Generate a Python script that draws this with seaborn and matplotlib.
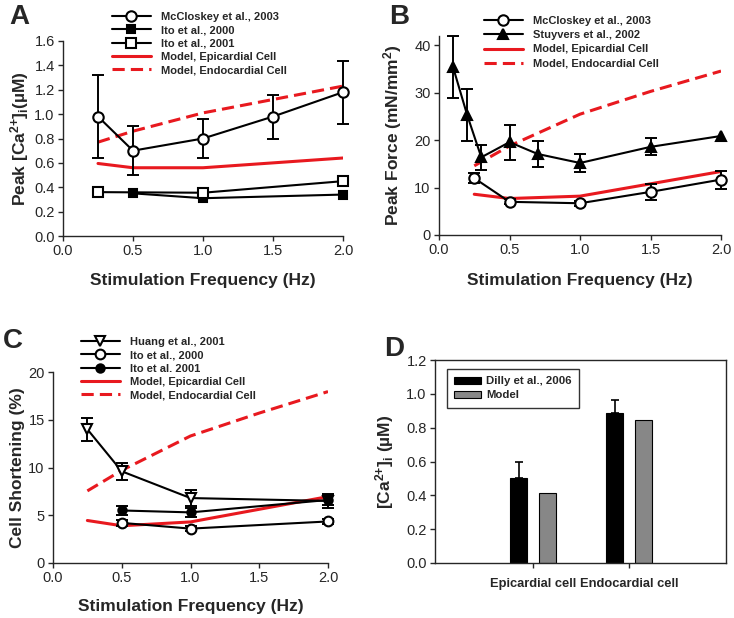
import matplotlib
matplotlib.use('Agg')
import matplotlib.pyplot as plt
import numpy as np
import pandas as pd
import seaborn as sns

# ---- panel A: peak [Ca2+]i vs stimulation frequency
a_mcc_x = [0.25, 0.5, 1.0, 1.5, 2.0]
a_mcc_y = [0.98, 0.70, 0.80, 0.98, 1.18]
a_mcc_err = [0.34, 0.20, 0.16, 0.18, 0.26]
a_ito00_x = [0.5, 1.0, 2.0]
a_ito00_y = [0.35, 0.31, 0.34]
a_ito01_x = [0.25, 1.0, 2.0]
a_ito01_y = [0.36, 0.355, 0.45]
a_epi_x = [0.25, 0.5, 1.0, 2.0]
a_epi_y = [0.595, 0.56, 0.56, 0.64]
a_endo_x = [0.25, 0.5, 1.0, 1.5, 2.0]
a_endo_y = [0.77, 0.86, 1.01, 1.12, 1.23]

# ---- panel B: peak force
b_mcc_x = [0.25, 0.5, 1.0, 1.5, 2.0]
b_mcc_y = [12.0, 7.0, 6.7, 9.1, 11.7]
b_mcc_err = [1.1, 0.5, 0.5, 1.7, 1.9]
b_stuy_x = [0.1, 0.2, 0.3, 0.5, 0.7, 1.0, 1.5, 2.0]
b_stuy_y = [35.4, 25.3, 16.4, 19.6, 17.1, 15.2, 18.6, 20.9]
b_stuy_err = [6.5, 5.5, 2.7, 3.7, 2.8, 1.9, 1.8, 0.0]
b_epi_x = [0.25, 0.5, 1.0, 1.5, 2.0]
b_epi_y = [8.6, 7.7, 8.2, 10.8, 13.4]
b_endo_x = [0.25, 0.5, 1.0, 1.5, 2.0]
b_endo_y = [14.6, 18.8, 25.5, 30.3, 34.6]

# ---- panel C: cell shortening
c_huang_x = [0.25, 0.5, 1.0, 2.0]
c_huang_y = [14.0, 9.6, 6.8, 6.5]
c_huang_err = [1.2, 0.9, 0.8, 0.7]
c_ito00_x = [0.5, 1.0, 2.0]
c_ito00_y = [4.2, 3.6, 4.35]
c_ito00_err = [0.3, 0.3, 0.3]
c_ito01_x = [0.5, 1.0, 2.0]
c_ito01_y = [5.5, 5.3, 6.6]
c_ito01_err = [0.5, 0.5, 0.5]
c_epi_x = [0.25, 0.5, 1.0, 2.0]
c_epi_y = [4.45, 3.9, 4.3, 6.95]
c_endo_x = [0.25, 0.5, 1.0, 1.5, 2.0]
c_endo_y = [7.55, 9.7, 13.3, 15.7, 17.95]

# ---- panel D: epi vs endo [Ca2+]i
d_cells = ['Epicardial cell', 'Endocardial cell']
d_dilly = [0.505, 0.885]
d_dilly_err = [0.09, 0.08]
d_model = [0.415, 0.845]

RED = '#e8191f'

sns.set_style('ticks')
plt.rcParams['font.family'] = ['Liberation Sans', 'DejaVu Sans']
plt.rcParams['mathtext.fontset'] = 'custom'
plt.rcParams['mathtext.rm'] = 'Liberation Sans:bold'
plt.rcParams['mathtext.it'] = 'Liberation Sans:bold'
plt.rcParams['mathtext.bf'] = 'Liberation Sans:bold'
plt.rcParams['mathtext.default'] = 'regular'
plt.rcParams['axes.linewidth'] = 1.0
plt.rcParams['xtick.major.size'] = 3.5
plt.rcParams['ytick.major.size'] = 3.5
plt.rcParams['xtick.major.pad'] = 2.5
plt.rcParams['ytick.major.pad'] = 2.5

fig = plt.figure(figsize=(7.34, 6.18), dpi=100)
W, H = 734, 618


def px_axes(l, t, r, b):
    return fig.add_axes([l / W, 1 - b / H, (r - l) / W, (b - t) / H])


def data_line(ax, x, y, marker, face, label, ms=6.5):
    sns.lineplot(x=x, y=y, ax=ax, color='black', lw=1.5, marker=marker,
                 markersize=ms, markerfacecolor=face, markeredgecolor='black',
                 markeredgewidth=1.5, label=label, sort=False, zorder=4, clip_on=False)


def err(ax, x, y, e):
    eb = ax.errorbar(x, y, yerr=e, fmt='none', ecolor='black', elinewidth=1.4,
                     capsize=4, capthick=1.4, zorder=3)
    for art in eb.lines[1] + eb.lines[2]:
        art.set_clip_on(False)


def model_lines(ax, ex, ey, nx, ny):
    sns.lineplot(x=ex, y=ey, ax=ax, color=RED, lw=2.2, label='Model, Epicardial Cell', zorder=2)
    sns.lineplot(x=nx, y=ny, ax=ax, color=RED, lw=2.2, linestyle=(0, (4, 2)),
                 label='Model, Endocardial Cell', zorder=2)


def top_legend(ax, left, top, spacing=0.18):
    h, l = ax.get_legend_handles_labels()
    ax.legend(h, l, loc='upper left', bbox_to_anchor=(left / W, 1 - top / H),
              bbox_transform=fig.transFigure, frameon=False, borderpad=0,
              borderaxespad=0, handlelength=3.5, handletextpad=0.9,
              labelspacing=spacing, prop={'weight': 'bold', 'size': 8})


def style_xy(ax, xl_y, yl_x):
    sns.despine(ax=ax)
    ax.set_xlim(0, 2.0)
    ax.set_xticks([0.0, 0.5, 1.0, 1.5, 2.0])
    ax.set_xticklabels(['0.0', '0.5', '1.0', '1.5', '2.0'])
    ax.tick_params(labelsize=10.5, direction='out', width=1)
    ax.set_xlabel('Stimulation Frequency (Hz)', fontsize=12.5, fontweight='bold')
    ax.xaxis.set_label_coords(0.5, xl_y)
    ax.yaxis.set_label_coords(yl_x, 0.5)


# ---------------- A
axA = px_axes(63, 41, 343, 236)
err(axA, a_mcc_x, a_mcc_y, a_mcc_err)
data_line(axA, a_mcc_x, a_mcc_y, 'o', 'white', 'McCloskey et al., 2003', ms=7.5)
data_line(axA, a_ito00_x, a_ito00_y, 's', 'black', 'Ito et al., 2000', ms=6)
data_line(axA, a_ito01_x, a_ito01_y, 's', 'white', 'Ito et al., 2001', ms=6.5)
model_lines(axA, a_epi_x, a_epi_y, a_endo_x, a_endo_y)
axA.set_ylim(0, 1.6)
axA.set_yticks(np.arange(0, 1.61, 0.2))
axA.set_yticklabels([f'{v:.1f}' for v in np.arange(0, 1.61, 0.2)])
axA.set_ylabel('Peak [Ca$^{2{+}}$]$_i$(µM)', fontsize=12.5, fontweight='bold')
style_xy(axA, -0.19, -0.115)
top_legend(axA, 112, 12, spacing=0.3)

# ---------------- B
axB = px_axes(439, 36, 721, 235)
err(axB, b_mcc_x, b_mcc_y, b_mcc_err)
err(axB, b_stuy_x[:-1], b_stuy_y[:-1], b_stuy_err[:-1])
data_line(axB, b_mcc_x, b_mcc_y, 'o', 'white', 'McCloskey et al., 2003', ms=7.5)
data_line(axB, b_stuy_x, b_stuy_y, '^', 'black', 'Stuyvers et al., 2002', ms=6.5)
model_lines(axB, b_epi_x, b_epi_y, b_endo_x, b_endo_y)
axB.set_ylim(0, 42)
axB.set_yticks([0, 10, 20, 30, 40])
axB.set_ylabel('Peak Force (mN/mm$^2$)', fontsize=12.5, fontweight='bold')
style_xy(axB, -0.19, -0.125)
top_legend(axB, 484, 16, spacing=0.38)

# ---------------- C
axC = px_axes(53, 372, 328, 563)
err(axC, c_huang_x, c_huang_y, c_huang_err)
err(axC, c_ito00_x, c_ito00_y, c_ito00_err)
err(axC, c_ito01_x, c_ito01_y, c_ito01_err)
data_line(axC, c_huang_x, c_huang_y, 'v', 'white', 'Huang et al., 2001', ms=7.5)
data_line(axC, c_ito00_x, c_ito00_y, 'o', 'white', 'Ito et al., 2000', ms=7)
data_line(axC, c_ito01_x, c_ito01_y, 'o', 'black', 'Ito et al. 2001', ms=6)
model_lines(axC, c_epi_x, c_epi_y, c_endo_x, c_endo_y)
axC.set_ylim(0, 20)
axC.set_yticks([0, 5, 10, 15, 20])
axC.set_ylabel('Cell Shortening (%)', fontsize=12.5, fontweight='bold')
style_xy(axC, -0.19, -0.1)
top_legend(axC, 81, 337, spacing=0.3)

# ---------------- D
axD = px_axes(435, 360, 726, 563)
df = pd.DataFrame({
    'cell': d_cells * 2,
    'value': d_dilly + d_model,
    'source': ['Dilly et al., 2006'] * 2 + ['Model'] * 2,
})
sns.barplot(data=df, x='cell', y='value', hue='source', ax=axD,
            palette=['black', '#878787'], edgecolor='black', linewidth=0.8,
            width=0.6, gap=0.4, errorbar=None)
dilly_x = [p.get_x() + p.get_width() / 2 for p in axD.patches[:2]]
axD.errorbar(dilly_x, d_dilly, yerr=[[0, 0], d_dilly_err], fmt='none',
             ecolor='black', elinewidth=1.2, capsize=3, capthick=1.2)
axD.set_xlim(-1.02, 2.01)
axD.set_ylim(0, 1.2)
axD.set_yticks(np.arange(0, 1.21, 0.2))
axD.set_yticklabels([f'{v:.1f}' for v in np.arange(0, 1.21, 0.2)])
axD.tick_params(axis='y', labelsize=10.5, width=1)
axD.tick_params(axis='x', labelsize=9.3, width=1, pad=7)
for t in axD.get_xticklabels():
    t.set_fontweight('bold')
axD.set_xlabel('')
axD.set_ylabel('[Ca$^{2{+}}$]$_i$ (µM)', fontsize=12.5, fontweight='bold')
axD.yaxis.set_label_coords(-0.135, 0.5)
for s in axD.spines.values():
    s.set_visible(True)
    s.set_linewidth(1.0)
h, l = axD.get_legend_handles_labels()
leg = axD.legend(h, l, loc='upper left', bbox_to_anchor=(447 / W, 1 - 369 / H),
                 bbox_transform=fig.transFigure, frameon=True, fancybox=False,
                 borderaxespad=0, borderpad=0.65, handlelength=2.3, handleheight=0.6,
                 handletextpad=0.5, labelspacing=0.35,
                 prop={'weight': 'bold', 'size': 8.2})
leg.get_frame().set_edgecolor('black')
leg.get_frame().set_linewidth(1.0)

# panel letters
for letter, x, y in [('A', 9, 24), ('B', 389, 24), ('C', 3, 348), ('D', 384, 356)]:
    fig.text(x / W, 1 - y / H, letter, fontsize=20, fontweight='bold', va='baseline')

fig.savefig('out.png', dpi=100)
